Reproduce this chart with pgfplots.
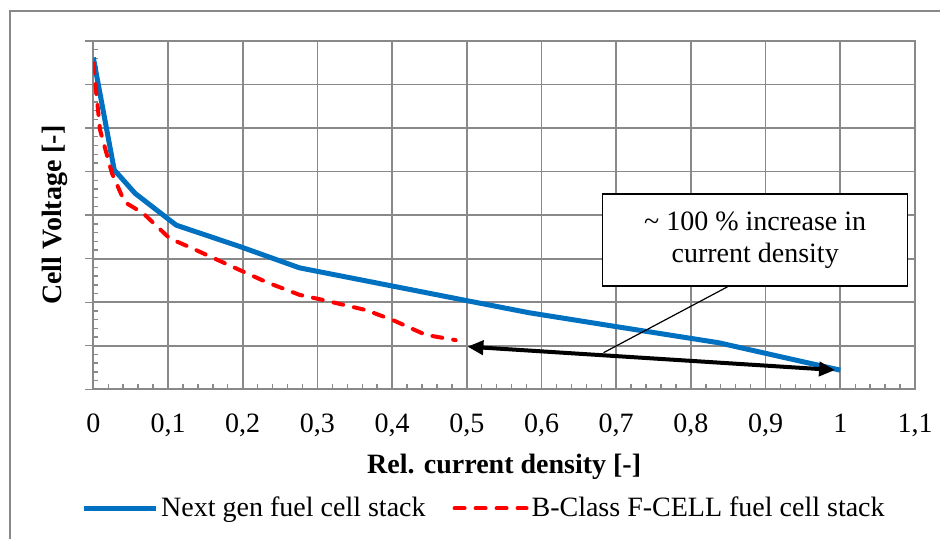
\documentclass[border=0pt]{standalone}
\usepackage{fontspec}
\setmainfont{Liberation Serif}
\usepackage{pgfplots}
\pgfplotsset{compat=1.18}
\usetikzlibrary{arrows.meta}

\definecolor{gridgray}{RGB}{137,137,137}
\definecolor{nextblue}{RGB}{0,112,192}
\definecolor{fcred}{RGB}{255,0,0}

\begin{document}
\begin{tikzpicture}
\begin{axis}[
    name=ax,
    scale only axis, width=410.85pt, height=174.15pt,
    xmin=0, xmax=1.1, ymin=0, ymax=8,
    xtick={0,0.1,0.2,0.3,0.4,0.5,0.6,0.7,0.8,0.9,1,1.1},
    ytick={0,1,2,3,4,5,6,7,8},
    yticklabels={},
    minor x tick num=4, minor y tick num=4,
    grid=major,
    major grid style={gridgray, line width=0.85pt},
    axis line style={gridgray, line width=0.85pt},
    tick style={gridgray, line width=0.7pt},
    tick align=inside, tick pos=left,
    major tick length=4pt, minor tick length=2.5pt,
    major y tick style={xshift=-4pt},
    /pgf/number format/use comma,
    /pgf/number format/assume math mode=true,
    xticklabel style={anchor=base, yshift=-21.35pt, font=\fontsize{14}{16}\selectfont},
    xlabel={\textbf{Rel. current density [-]}},
    xlabel style={at={(axis description cs:0.5,0)}, anchor=base, yshift=-42.1pt,
        font=\fontsize{14}{16}\selectfont},
    ylabel={\textbf{Cell Voltage [-]}},
    ylabel style={at={(axis description cs:-0.0466,0.5)}, anchor=center,
        font=\fontsize{14}{16}\selectfont},
    legend columns=2,
    legend style={draw=none, fill=none, inner sep=0pt,
        at={(axis description cs:0.476,-0.342)}, anchor=center,
        font=\fontsize{14}{16}\selectfont,
        nodes={inner sep=1.5pt},
        /tikz/every even column/.append style={column sep=12pt}},
    legend image code/.code={\draw[#1] (0pt,0pt) -- (36pt,0pt);},
]
\addplot[nextblue, line width=2.5pt, line join=round] coordinates {
    (0,7.62) (0.028,5.04) (0.056,4.50) (0.111,3.77) (0.196,3.28)
    (0.276,2.79) (0.401,2.37) (0.499,2.04) (0.583,1.76) (0.70,1.44)
    (0.837,1.07) (1.0,0.44)
};
\addlegendentry{Next gen fuel cell stack}
\addplot[fcred, line width=2pt, line cap=round, dash pattern=on 5pt off 5.5pt] coordinates {
    (0,7.49) (0.009,5.96) (0.025,4.96) (0.042,4.30) (0.067,4.04)
    (0.102,3.47) (0.136,3.21) (0.196,2.74) (0.232,2.46) (0.276,2.17)
    (0.303,2.07) (0.365,1.82) (0.401,1.59) (0.445,1.25) (0.485,1.13)
};
\addlegendentry{B-Class F-CELL fuel cell stack}

% callout and arrow
\draw[black, line width=0.6pt] (axis cs:0.851,2.373) -- (axis cs:0.683,0.841);
\draw[black, line width=0.6pt, fill=white] (axis cs:0.682,4.487) rectangle (axis cs:1.0898,2.373);
\node[align=center, font=\fontsize{14}{16}\selectfont] at (axis cs:0.886,3.43)
    {\textasciitilde{} 100 \% increase in\\current density};
\draw[black, line width=2pt, {Triangle[length=8pt,width=7pt]}-{Triangle[length=8pt,width=7pt]}]
    (axis cs:0.5008,0.98) -- (axis cs:0.993,0.443);
\end{axis}

% chart area frame
\draw[gridgray, line width=0.65pt]
    ([shift={(430pt,189.15pt)}]ax.south west) -- ([shift={(-41.65pt,189.15pt)}]ax.south west)
    -- ([shift={(-41.65pt,-80pt)}]ax.south west);
\pgfresetboundingbox
\path[use as bounding box] ([shift={(-46.65pt,-74.35pt)}]ax.south west)
    rectangle ([shift={(423.35pt,194.65pt)}]ax.south west);
\end{tikzpicture}
\end{document}
